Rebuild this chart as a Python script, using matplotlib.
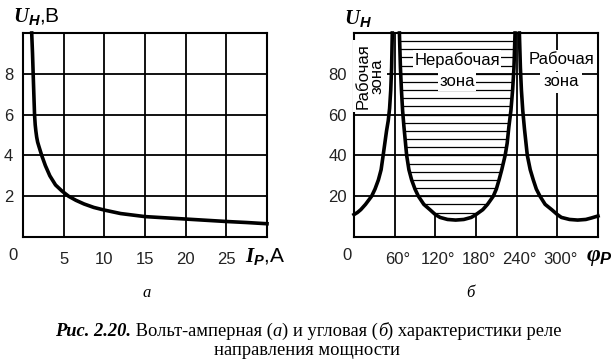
import numpy as np
import matplotlib
matplotlib.use('Agg')
import matplotlib.pyplot as plt
from matplotlib.transforms import ScaledTranslation

# (a) volt-ampere characteristic
i_p = [1.07, 1.17, 1.25, 1.3, 1.35, 1.42, 1.5, 1.58, 1.68, 1.8, 1.95, 2.3, 2.75, 3.3, 4.0, 4.8, 5.6,
       6.5, 7.5, 8.7, 10, 12, 15, 17.5, 20, 22.5, 25, 27.5, 30]
u_a = [10, 9, 8, 7.4, 6.8, 6.0, 5.5, 5.2, 4.9, 4.65, 4.45, 4.0, 3.5, 3.0, 2.55, 2.25, 2.0,
       1.8, 1.62, 1.45, 1.32, 1.15, 1.0, 0.94, 0.88, 0.82, 0.76, 0.71, 0.65]
xticks_a = [5, 10, 15, 20, 25]
yticks_a = [2, 4, 6, 8]

# (b) angular characteristic: three branches
phi_l = [0, 5, 10, 17, 26, 31, 36, 40, 43, 45.5, 48, 50.5, 52.5, 54.2, 55.5, 56.5]
u_l = [11, 12, 13.4, 16, 20, 23.5, 28, 33, 40, 46, 52, 57, 63, 72, 83, 100]
phi_m = [67, 68.5, 70, 71.7, 73.7, 77.7, 81, 85, 90, 95, 103, 112, 120, 127, 138, 150,
         162, 173, 180, 190, 197, 205.5, 210, 214, 218, 223, 226, 228.5, 231.5, 234, 236, 237.6]
u_m = [100, 83, 72, 62, 54, 40, 33, 28, 23.5, 20, 16, 13.4, 11, 9.6, 8.6, 8.3,
       8.6, 9.6, 11, 13.4, 16, 20, 23.5, 28, 33, 40, 46, 54, 62, 72, 83, 100]
phi_r = [244, 245.5, 247, 249, 251.5, 255.7, 260, 264.5, 269, 274.4, 282, 291.7,
         300, 306, 318, 330, 342, 350, 360]
u_r = [100, 83, 72, 62, 53, 40, 33, 28, 23.5, 20, 16, 13.4,
       11, 9.6, 8.6, 8.3, 8.6, 9.3, 10.3]
xticks_b = [60, 120, 180, 240, 300]
xlabels_b = ['60°', '120°', '180°', '240°', '300°']
yticks_b = [20, 40, 60, 80]

SANS = ['Liberation Sans', 'DejaVu Sans']
SERIF = ['Liberation Serif', 'DejaVu Serif']

plt.rcParams['font.family'] = SANS
plt.rcParams['mathtext.fontset'] = 'custom'
plt.rcParams['mathtext.it'] = 'Liberation Serif:italic:bold'
plt.rcParams['mathtext.sf'] = 'Liberation Sans:italic:bold'
plt.rcParams['mathtext.rm'] = 'Liberation Sans'

W, H = 616, 364
fig = plt.figure(figsize=(W / 100, H / 100), dpi=100)


def fx(x):
    return x / W


def fy(y):
    return 1 - y / H


FS = 12
GRID_LW = 1.3
CURVE_LW = 2.6
TC = '#222'

ax1 = fig.add_axes([fx(23), fy(237), 244 / W, 204 / H])
ax2 = fig.add_axes([fx(354), fy(237), 244 / W, 204 / H])

for ax in (ax1, ax2):
    for s in ax.spines.values():
        s.set_linewidth(1.5)
    ax.tick_params(length=0, labelsize=FS, colors=TC)

# ---- (a)
ax1.set_xlim(0, 30)
ax1.set_ylim(0, 10)
ax1.set_xticks(xticks_a)
ax1.set_yticks(yticks_a)
ax1.tick_params(axis='x', pad=11)
ax1.tick_params(axis='y', pad=7)
ax1.grid(True, color='black', lw=GRID_LW)
ax1.set_axisbelow(True)
ax1.plot(i_p, u_a, color='black', lw=CURVE_LW, clip_on=False)
fig.text(fx(13), fy(255), '0', fontsize=FS, ha='center', va='center', color=TC)
fig.text(fx(13), fy(22), r'$U_{\mathsf{H}}$,В', fontsize=15, ha='left', va='baseline')
fig.text(fx(245), fy(262), r'$I_{\mathsf{P}}$,A', fontsize=15, ha='left', va='baseline')

# ---- (b)
ax2.set_xlim(0, 360)
ax2.set_ylim(0, 100)
ax2.set_xticks(xticks_b)
ax2.set_xticklabels(xlabels_b)
ax2.set_yticks(yticks_b)
ax2.tick_params(axis='x', pad=11)
ax2.tick_params(axis='y', pad=5)
for lab in ax2.get_xticklabels():
    lab.set_transform(lab.get_transform() + ScaledTranslation(3 / 100, 0, fig.dpi_scale_trans))
ax2.grid(True, color='black', lw=GRID_LW, zorder=0)
ax2.set_axisbelow(True)

# non-working zone: white fill with horizontal hatching
zone = ax2.fill_between(phi_m, u_m, 100, facecolor='white', edgecolor='none', zorder=1.5)
clip = zone.get_paths()[0]
hatch = ax2.hlines(np.arange(12, 100, 4), 60, 240, color='black', lw=0.9, zorder=1.6)
hatch.set_clip_path(clip, ax2.transData)
glines = ax2.hlines(yticks_b, 60, 240, color='black', lw=GRID_LW, zorder=1.7)
glines.set_clip_path(clip, ax2.transData)

for px_, py_ in ((phi_l, u_l), (phi_m, u_m), (phi_r, u_r)):
    ax2.plot(px_, py_, color='black', lw=CURVE_LW, zorder=3, clip_on=False)

box = dict(facecolor='white', edgecolor='none', pad=2.2)
ax2.text(fx(457), fy(60), 'Нерабочая', transform=fig.transFigure, fontsize=FS,
         ha='center', va='center', bbox=dict(box, pad=1.2), zorder=4)
ax2.text(fx(457), fy(82), 'зона', transform=fig.transFigure, fontsize=FS,
         ha='center', va='center', bbox=dict(box, pad=1.2), zorder=4)
ax2.text(fx(561), fy(60), 'Рабочая', transform=fig.transFigure, fontsize=FS,
         ha='center', va='center', bbox=box, zorder=4)
ax2.text(fx(561), fy(82), 'зона', transform=fig.transFigure, fontsize=FS,
         ha='center', va='center', bbox=box, zorder=4)
ax2.text(fx(370), fy(76), 'Рабочая\nзона', transform=fig.transFigure, fontsize=FS,
         ha='center', va='center', rotation=90, linespacing=0.85,
         multialignment='center', bbox=box, zorder=4)

fig.text(fx(347), fy(255), '0', fontsize=FS, ha='center', va='center', color=TC)
fig.text(fx(344), fy(24), r'$U_{\mathsf{H}}$', fontsize=15, ha='left', va='baseline')
fig.text(fx(586), fy(261), r'$φ_{\mathsf{P}}$', fontsize=17, ha='left', va='baseline')

# ---- sublabels and caption
fig.text(fx(147), fy(293), 'а', family=SERIF, style='italic', fontsize=12,
         ha='center', va='center')
fig.text(fx(470), fy(293), 'б', family=SERIF, style='italic', fontsize=12,
         ha='center', va='center')

CFS = 13.3
pieces = [('Рис. 2.20.', 'italic', 'bold'), (' Вольт-амперная (', 'normal', 'normal'),
          ('а', 'italic', 'normal'), (') и угловая (', 'normal', 'normal'),
          ('б', 'italic', 'normal'), (') характеристики реле', 'normal', 'normal')]
prev = fig.text(fx(55), fy(336), pieces[0][0], family=SERIF, style=pieces[0][1],
                weight=pieces[0][2], fontsize=CFS, ha='left', va='baseline')
for s, st, wt in pieces[1:]:
    prev = ax1.annotate(s, xy=(1, 0), xycoords=prev, ha='left', va='bottom',
                        family=SERIF, style=st, weight=wt, fontsize=CFS,
                        annotation_clip=False)
fig.text(fx(307), fy(355), 'направления мощности', family=SERIF, fontsize=CFS,
         ha='center', va='baseline')

fig.savefig('out.png', dpi=100)
